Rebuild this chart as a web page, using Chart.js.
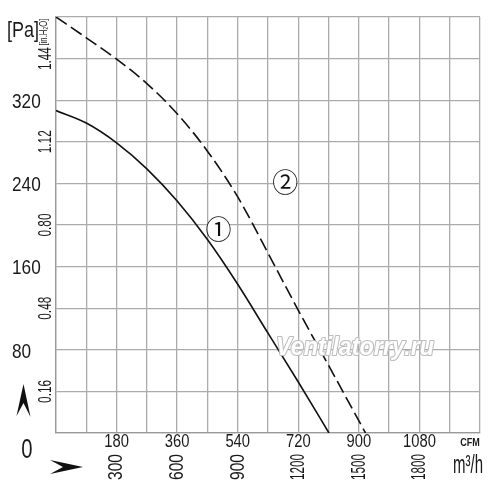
<!DOCTYPE html>
<html>
<head>
<meta charset="utf-8">
<script src="https://cdn.jsdelivr.net/npm/chart.js@4.4.1/dist/chart.umd.min.js"></script>
<style>
  html, body { margin: 0; padding: 0; background: #fff; }
  #wrap { width: 500px; height: 498px; }
</style>
</head>
<body>
<div id="wrap"><canvas id="fanChart" width="500" height="498"></canvas></div>
<script>
// Curve 1 (solid) - airflow m3/h vs static pressure Pa
const flow1 = [0, 150, 300, 450, 600, 750, 900, 1050, 1200, 1352];
const pres1 = [310, 298, 279, 254, 223, 186, 143, 96, 49, 0];

// Curve 2 (dashed)
const flow2 = [0, 150, 300, 450, 600, 750, 900, 1050, 1200, 1350, 1533];
const pres2 = [400, 380, 359.5, 336, 307, 271, 227, 173, 118, 65, 0];

// tick labels
const paTicks = [320, 240, 160, 80];
const inchTicks = ['1.44', '1.12', '0.80', '0.48', '0.16'];
const cfmTicks = [180, 360, 540, 720, 900, 1080];
const m3hTicks = [300, 600, 900, 1200, 1500, 1800];

const SANS = '"Liberation Sans", Arial, sans-serif';
const NARROW = 0.82;

function toPoints(xs, ys) {
    return xs.map((x, i) => ({ x: x, y: ys[i] }));
}

// text helper: sx squeezes along the reading direction
function drawText(ctx, text, x, y, font, opts) {
    opts = opts || {};
    ctx.save();
    ctx.font = font;
    ctx.fillStyle = opts.color || '#1a1a1a';
    ctx.textAlign = opts.align || 'center';
    ctx.textBaseline = opts.baseline || 'middle';
    ctx.translate(x, y);
    if (opts.rotate) ctx.rotate(opts.rotate);
    let sx = opts.sx || 1;
    if (opts.fit) {
        const w = ctx.measureText(text).width;
        sx = Math.min(1, opts.fit / w);
    }
    ctx.scale(sx, 1);
    ctx.fillText(text, 0, 0);
    ctx.restore();
}

const labelsPlugin = {
    id: 'fanLabels',
    afterDraw(chart) {
        const ctx = chart.ctx;
        const sx = chart.scales.x;
        const sy = chart.scales.y;
        const cfm = chart.scales.x2;
        const inch = chart.scales.y2;

        // Pa labels
        paTicks.forEach(v => {
            drawText(ctx, String(v), 12, sy.getPixelForValue(v) + 2, '21px ' + SANS, { align: 'left', sx: NARROW });
        });
        drawText(ctx, '0', 27, sy.getPixelForValue(0) + 18, '27px ' + SANS, { sx: 0.75 });
        drawText(ctx, '[Pa]', 7, 31, '22px ' + SANS, { align: 'left', sx: NARROW });

        // in.H2O labels (rotated)
        inchTicks.forEach(v => {
            drawText(ctx, v, 46, inch.getPixelForValue(parseFloat(v)), '19px ' + SANS,
                { rotate: -Math.PI / 2, fit: 23 });
        });
        drawText(ctx, '[in.H\u2082O]', 44, 32, '11px ' + SANS, { rotate: -Math.PI / 2, fit: 27 });

        // CFM labels
        cfmTicks.forEach(v => {
            drawText(ctx, String(v), cfm.getPixelForValue(v), 442, '18px ' + SANS, { sx: NARROW });
        });
        drawText(ctx, 'CFM', 470, 443, 'bold 11px ' + SANS, { sx: NARROW });

        // m3/h labels (rotated)
        m3hTicks.forEach(v => {
            drawText(ctx, String(v), sx.getPixelForValue(v), 467, '21px ' + SANS,
                { rotate: -Math.PI / 2, fit: 26 });
        });
        drawText(ctx, 'm\u00b3/h', 468, 466, '25px ' + SANS, { fit: 30 });

        // axis arrows
        ctx.save();
        ctx.fillStyle = '#111';
        ctx.beginPath();
        ctx.moveTo(23.5, 384);
        ctx.lineTo(30.5, 417);
        ctx.lineTo(23.5, 403);
        ctx.lineTo(16.5, 416);
        ctx.closePath();
        ctx.fill();
        ctx.beginPath();
        ctx.moveTo(83, 467);
        ctx.lineTo(50, 474);
        ctx.lineTo(63, 467);
        ctx.lineTo(50, 460);
        ctx.closePath();
        ctx.fill();
        ctx.restore();

        // curve markers
        const marks = [['\u2460', 805, 197], ['\u2461', 1135, 242]];
        marks.forEach(m => {
            const px = sx.getPixelForValue(m[1]);
            const py = sy.getPixelForValue(m[2]);
            ctx.save();
            ctx.fillStyle = '#fff';
            ctx.beginPath();
            ctx.arc(px, py, 11, 0, Math.PI * 2);
            ctx.fill();
            ctx.restore();
            drawText(ctx, m[0], px, py + 1, '26px "Noto Sans CJK SC", "DejaVu Sans", sans-serif', { color: '#111' });
        });

        // watermark
        ctx.save();
        ctx.font = 'italic bold 25px ' + SANS;
        ctx.textAlign = 'left';
        ctx.textBaseline = 'alphabetic';
        const wm = 'Ventilatorry.ru';
        const w = ctx.measureText(wm).width;
        ctx.translate(276, 355);
        ctx.scale(158 / w, 1);
        ctx.strokeStyle = '#bdbdbd';
        ctx.lineWidth = 2.2;
        ctx.lineJoin = 'round';
        ctx.strokeText(wm, 0, 0);
        ctx.fillStyle = '#ffffff';
        ctx.fillText(wm, 0, 0);
        ctx.restore();
    }
};

const ctx = document.getElementById('fanChart').getContext('2d');
const gridColor = '#ababab';

const fanChart = new Chart(ctx, {
    type: 'line',
    data: {
        datasets: [{
            label: '1',
            data: toPoints(flow1, pres1),
            borderColor: '#111',
            borderWidth: 1.6,
            pointRadius: 0,
            cubicInterpolationMode: 'monotone',
            fill: false
        }, {
            label: '2',
            data: toPoints(flow2, pres2),
            borderColor: '#111',
            borderWidth: 1.6,
            borderDash: [13, 5],
            pointRadius: 0,
            cubicInterpolationMode: 'monotone',
            fill: false
        }]
    },
    options: {
        responsive: false,
        animation: false,
        layout: {
            padding: { left: 56, top: 17, right: 20, bottom: 65 }
        },
        scales: {
            x: {
                type: 'linear',
                min: 0,
                max: 2100,
                ticks: { stepSize: 150, display: false },
                grid: { color: gridColor, lineWidth: 1.3, drawTicks: false },
                border: { color: '#999', width: 1.3 }
            },
            y: {
                min: 0,
                max: 400,
                ticks: { stepSize: 40, display: false },
                grid: { color: gridColor, lineWidth: 1.3, drawTicks: false },
                border: { color: '#999', width: 1.3 }
            },
            x2: {
                type: 'linear',
                display: false,
                min: 0,
                max: 1260
            },
            y2: {
                type: 'linear',
                display: false,
                min: 0,
                max: 1.6
            }
        },
        plugins: {
            legend: { display: false },
            tooltip: { enabled: false }
        }
    },
    plugins: [labelsPlugin]
});
</script>
</body>
</html>
